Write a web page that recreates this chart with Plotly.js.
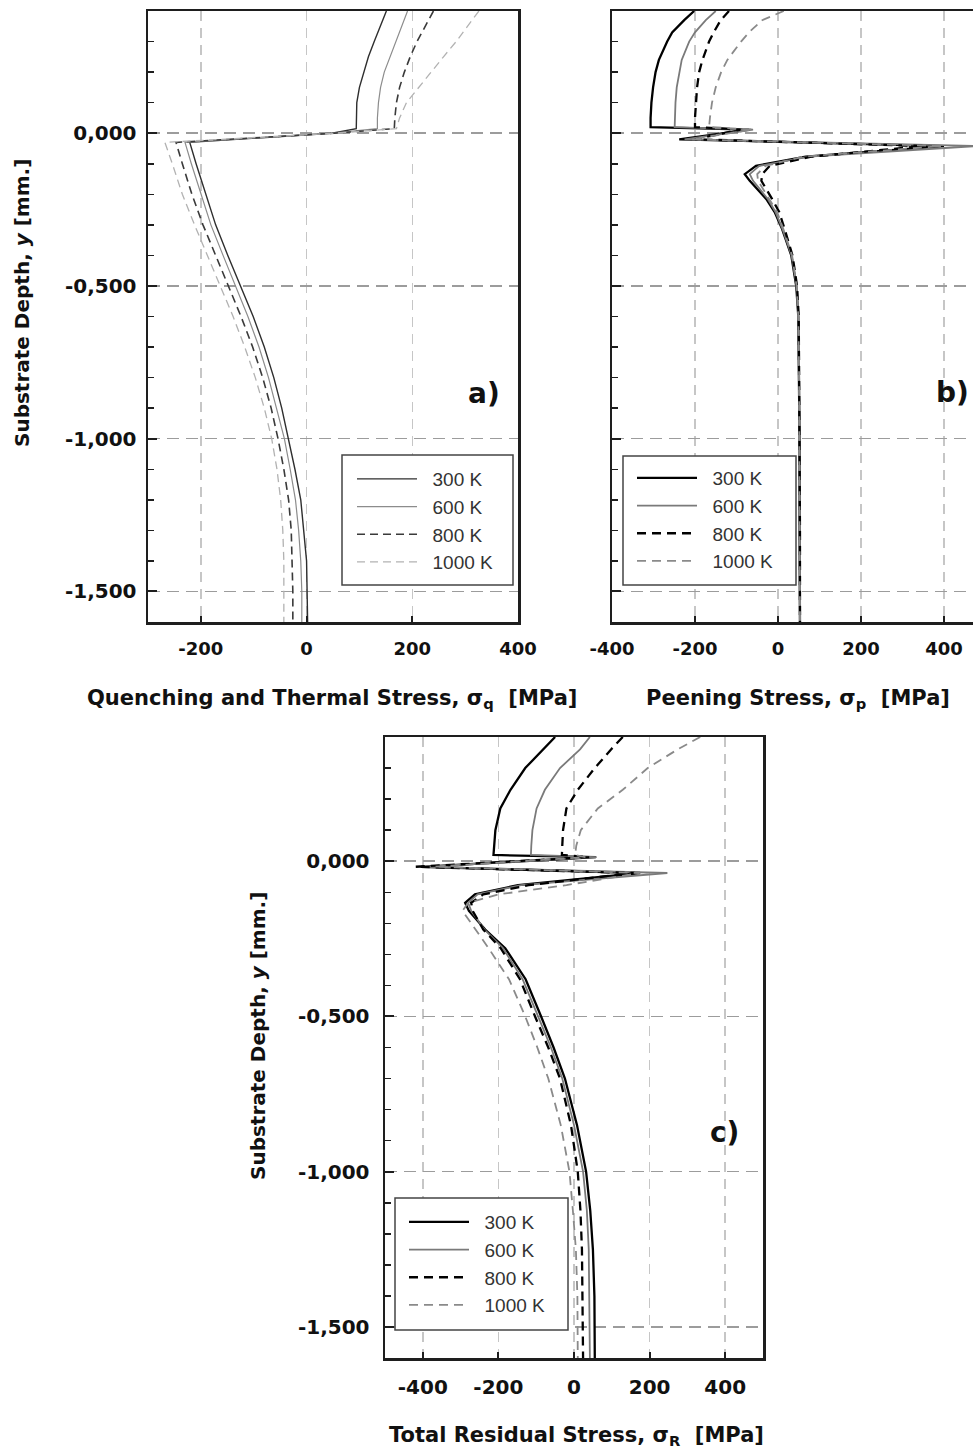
<!DOCTYPE html>
<html><head><meta charset="utf-8">
<script src="https://cdn.plot.ly/plotly-3.0.1.min.js"></script>
<style>html,body{margin:0;padding:0;background:#fff}#chart{width:973px;height:1455px}</style>
</head><body><div id="chart"></div>
<script>
// ---------- data ----------
const temps = ['300 K', '600 K', '800 K', '1000 K'];

// a) Quenching and thermal stress
const depthA = [0.40, 0.35, 0.30, 0.25, 0.20, 0.15, 0.10, 0.05, 0.015, 0.0, -0.03, -0.1, -0.2, -0.3, -0.4, -0.5, -0.6, -0.7, -0.8, -0.9, -1.0, -1.1, -1.2, -1.3, -1.4, -1.5, -1.6];
const a300  = [151, 139, 128, 117, 108, 100, 95, 94, 94, 48, -221, -209, -191, -172, -149, -125, -101, -80, -62, -47, -34, -22, -11, -5, 0, 1, 2];
const a600  = [191, 180, 170, 158, 147, 140, 136, 134, 134, 50, -230, -218, -200, -181, -158, -134, -111, -90, -72, -57, -42, -31, -21, -15, -11, -9, -9];
const a800  = [240, 224, 209, 196, 185, 176, 170, 167, 166, 52, -247, -235, -217, -196, -172, -148, -124, -102, -83, -67, -54, -43, -34, -29, -27, -26, -26];
const a1000 = [326, 305, 283, 259, 236, 212, 189, 176, 170, 54, -268, -254, -235, -212, -188, -163, -139, -117, -97, -80, -66, -56, -49, -45, -43, -43, -43];

// b) Peening stress
const depthB = [0.40, 0.37, 0.33, 0.30, 0.24, 0.20, 0.15, 0.10, 0.05, 0.02, 0.012, -0.02, -0.042, -0.077, -0.107, -0.134, -0.156, -0.216, -0.258, -0.314, -0.4, -0.5, -0.6, -0.8, -1.0, -1.3, -1.6];
const b300  = [-202, -226, -255, -267, -287, -295, -301, -305, -307, -307, -70, -238, 400, 67, -53, -80, -68, -28, -8, 10, 32, 44, 49, 51, 52, 52, 53];
const b600  = [-150, -174, -200, -214, -232, -238, -244, -247, -249, -249, -60, -225, 478, 75, -45, -68, -60, -24, -6, 11, 33, 45, 49, 51, 52, 52, 53];
const b800  = [-118, -138, -155, -166, -182, -190, -195, -198, -200, -200, -90, -200, 350, 80, -20, -38, -40, -14, 3, 16, 35, 46, 50, 51, 52, 53, 53];
const b1000 = [14, -38, -70, -89, -122, -137, -150, -159, -164, -166, -60, -210, 395, 60, -30, -50, -48, -20, -2, 13, 34, 45, 49, 51, 52, 52, 53];

// c) Total residual stress
const depthC = [0.40, 0.36, 0.30, 0.23, 0.17, 0.10, 0.05, 0.02, 0.013, -0.018, -0.038, -0.077, -0.107, -0.134, -0.16, -0.22, -0.28, -0.38, -0.5, -0.6, -0.7, -0.85, -1.0, -1.125, -1.25, -1.4, -1.6];
const c300  = [-50, -82, -129, -168, -195, -208, -212, -213, 58, -405, 175, -148, -262, -288, -278, -235, -182, -128, -87, -54, -24, 8, 32, 43, 50, 54, 55];
const c600  = [42, 16, -37, -77, -99, -110, -113, -114, 60, -395, 247, -140, -255, -280, -272, -237, -188, -136, -95, -61, -31, 0, 24, 34, 39, 41, 42];
const c800  = [129, 98, 55, 10, -20, -29, -31, -32, 40, -420, 160, -120, -240, -272, -268, -240, -194, -143, -103, -68, -37, -8, 10, 17, 21, 23, 24];
const c1000 = [334, 274, 195, 129, 63, 18, 6, 3, 30, -370, 174, -20, -200, -280, -295, -261, -226, -172, -129, -97, -68, -35, -12, -3, 5, 9, 10];

// ticks
const xTickValsA = [-200, 0, 200, 400];
const xTickTextA = ['-200', '0', '200', '400'];
const xTickValsBC = [-400, -200, 0, 200, 400];
const xTickTextBC = ['-400', '-200', '0', '200', '400'];
const yTickVals = [0, -0.5, -1.0, -1.5];
const yTickText = ['0,000', '-0,500', '-1,000', '-1,500'];

// ---------- layout helpers ----------
const W = 973, H = 1455;
const px = v => v / W;
const py = v => 1 - v / H;
const NB = '\u00a0\u00a0';

const styleA = [
  {color: '#2e2e2e', width: 1.4, dash: 'solid'},
  {color: '#8c8c8c', width: 1.2, dash: 'solid'},
  {color: '#3a3a3a', width: 1.6, dash: '8px,5px'},
  {color: '#b2b2b2', width: 1.3, dash: '8px,5px'}
];
const styleBC = [
  {color: '#000000', width: 2.3, dash: 'solid'},
  {color: '#7a7a7a', width: 1.8, dash: 'solid'},
  {color: '#000000', width: 2.3, dash: '9px,6px'},
  {color: '#8a8a8a', width: 1.8, dash: '9px,6px'}
];

const traces = [];
function addPanel(depth, series, xa, ya, leg, styles) {
  series.forEach((s, i) => {
    traces.push({
      x: s, y: depth, mode: 'lines', name: NB + temps[i],
      xaxis: xa, yaxis: ya, legend: leg,
      line: styles[i], hoverinfo: 'skip'
    });
  });
}
addPanel(depthA, [a300, a600, a800, a1000], 'x', 'y', 'legend', styleA);
addPanel(depthB, [b300, b600, b800, b1000], 'x2', 'y2', 'legend2', styleBC);
addPanel(depthC, [c300, c600, c800, c1000], 'x3', 'y3', 'legend3', styleBC);

const axisColor = '#1e1e1e';
function xAxis(domain, range, tv, tt, fs, anchor) {
  return {
    domain, range, anchor, tickmode: 'array', tickvals: tv, ticktext: tt,
    ticks: 'inside', ticklen: 6, tickwidth: 2, tickcolor: axisColor,
    showline: true, linecolor: axisColor, linewidth: 2.5, mirror: true,
    showgrid: true, gridcolor: '#c6c6c6', gridwidth: 1.5, griddash: '10px,7px',
    zeroline: false, fixedrange: true, ticklabelstandoff: 9,
    tickfont: {family: 'DejaVu Sans', size: fs, color: '#111', weight: 700}
  };
}
function yAxis(domain, anchor, labels, mirror, standoff) {
  return {
    domain, range: [-1.6, 0.4], anchor, tickmode: 'array', tickvals: yTickVals,
    ticktext: yTickText, showticklabels: labels,
    ticks: 'inside', ticklen: 9, tickwidth: 2, tickcolor: axisColor,
    minor: {dtick: 0.1, tick0: 0, ticks: 'inside', ticklen: 6, tickwidth: 1.5, tickcolor: axisColor, showgrid: false},
    showline: true, linecolor: axisColor, linewidth: 2.5, mirror: mirror,
    showgrid: true, gridcolor: '#9c9c9c', gridwidth: 1.5, griddash: '12px,7px',
    zeroline: false, fixedrange: true, ticklabelstandoff: standoff,
    tickfont: {family: 'DejaVu Sans', size: 20, color: '#111', weight: 700}
  };
}
function legendAt(x, y) {
  return {
    x: px(x), y: py(y), xanchor: 'left', yanchor: 'top',
    bgcolor: 'rgba(0,0,0,0)', borderwidth: 0,
    font: {family: 'Liberation Sans', size: 19, color: '#333'},
    itemwidth: 60, tracegroupgap: 0, traceorder: 'normal'
  };
}
function legendBox(x0, y0, x1, y1) {
  return {type: 'rect', xref: 'paper', yref: 'paper', layer: 'above',
    x0: px(x0), x1: px(x1), y0: py(y1), y1: py(y0),
    fillcolor: '#ffffff', line: {color: '#444', width: 1.5}};
}

const titleFont = {family: 'DejaVu Sans', size: 21, color: '#111', weight: 700};
const yTitleFont = {family: 'DejaVu Sans', size: 20, color: '#111', weight: 700};
const labelFont = {family: 'DejaVu Sans', size: 28, color: '#111', weight: 700};
function note(text, x, y, font, extra) {
  return Object.assign({text, x: px(x), y: py(y), xref: 'paper', yref: 'paper',
    showarrow: false, xanchor: 'center', yanchor: 'middle', font}, extra || {});
}

const layout = {
  width: W, height: H, margin: {l: 0, r: 0, t: 0, b: 0},
  paper_bgcolor: '#fff', plot_bgcolor: '#fff', showlegend: true,
  xaxis: xAxis([px(148), px(518)], [-300, 400], xTickValsA, xTickTextA, 18, 'y'),
  yaxis: yAxis([py(622), py(11)], 'x', true, true, 5),
  xaxis2: xAxis([px(612), 1], [-400, 470], xTickValsBC, xTickTextBC, 18, 'y2'),
  yaxis2: yAxis([py(622), py(11)], 'x2', false, false, 5),
  xaxis3: xAxis([px(385), px(763)], [-500, 500], xTickValsBC, xTickTextBC, 20, 'y3'),
  yaxis3: yAxis([py(1358), py(737)], 'x3', true, true, 9),
  legend: legendAt(352, 460),
  legend2: legendAt(632, 459),
  legend3: legendAt(404, 1203),
  shapes: [
    legendBox(342, 455, 513, 585),
    legendBox(623, 456, 796, 585),
    legendBox(395, 1198, 568, 1330)
  ],
  annotations: [
    note('Quenching and Thermal Stress, σ<sub>q</sub>  [MPa]', 332, 699, titleFont),
    note('Peening Stress, σ<sub>p</sub>  [MPa]', 798, 699, titleFont),
    note('Total Residual Stress, σ<sub>R</sub>  [MPa]', 576, 1436, titleFont),
    note('Substrate Depth, <i>y</i> [mm.]', 22, 303, yTitleFont, {textangle: -90}),
    note('Substrate Depth, <i>y</i> [mm.]', 258, 1036, yTitleFont, {textangle: -90}),
    note('a)', 484, 394, labelFont),
    note('b)', 952, 393, labelFont),
    note('c)', 724, 1132, labelFont)
  ]
};

Plotly.newPlot('chart', traces, layout, {displayModeBar: false, staticPlot: true});
</script>
</body></html>
